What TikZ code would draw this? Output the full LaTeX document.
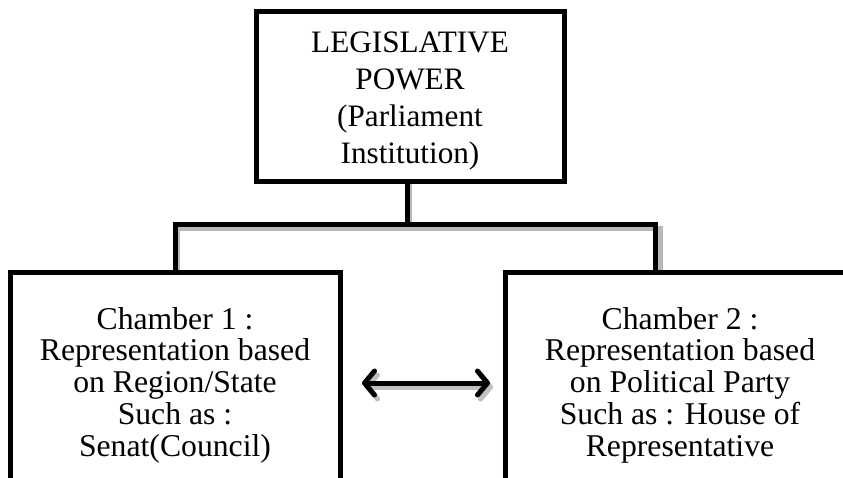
\documentclass[tikz,border=0pt]{standalone}
\usepackage{fontspec}
\setmainfont{Liberation Serif}
\usetikzlibrary{arrows.meta,calc}
\tikzset{
  box/.style={draw=black, line width=5pt, rectangle, align=center, inner sep=0pt, fill=white},
  topfont/.style={font=\fontsize{31.2}{36.7}\selectfont},
  lowfont/.style={font=\fontsize{31.7}{31.7}\selectfont},
  conn/.style={draw=black, line width=5pt, line cap=rect},
  connshadow/.style={draw=black!28, line width=5pt, line cap=rect, transform canvas={xshift=2pt,yshift=-4pt}},
  dblarrow/.style={draw=black, line width=5pt, {Straight Barb[length=10pt,width=24pt,round]}-{Straight Barb[length=10pt,width=24pt,round]}},
  dblshadow/.style={draw=black!25, line width=5pt, transform canvas={xshift=3pt,yshift=-4pt}, {Straight Barb[length=10pt,width=24pt,round]}-{Straight Barb[length=10pt,width=24pt,round]}}
}
\begin{document}
\begin{tikzpicture}[x=1pt,y=-1pt]
\useasboundingbox (0,0) rectangle (843,477);
\clip (0,0) rectangle (843,477);
\fill[white] (0,0) rectangle (843,477);
\coordinate (j0) at (407,224);
\coordinate (al) at (362,383);
\coordinate (ar) at (490,383);
\draw[connshadow] (407,181) -- (j0);
\draw[connshadow] (175,270) |- (j0) -| (658,270);
\draw[dblshadow] (al) -- (ar);
\node[box, minimum width=308pt, minimum height=170pt] (top) at (410,96) {};
\node[topfont, align=center, inner sep=0pt] (toptext) at (410,101)
  {LEGISLATIVE\\POWER\\(Parliament\\Institution)};
\node[box, lowfont, minimum width=330pt, minimum height=226pt] (left) at (175,385)
  {Chamber 1 :\\Representation based\\on Region/State\\Such as :\\Senat(Council)};
\node[box, lowfont, minimum width=350pt, minimum height=226pt] (right) at (680,385)
  {Chamber 2 :\\Representation based\\on Political Party\\Such as : House of\\Representative};
\coordinate (j) at (top.south -| j0);
\coordinate (rdrop) at ($(right.north west)+(153,0)$);
\draw[conn] (j) -- (j0);
\draw[conn] (left.north) |- (j0) -| (rdrop);
\draw[dblarrow] (al) -- (ar);
\end{tikzpicture}
\end{document}
